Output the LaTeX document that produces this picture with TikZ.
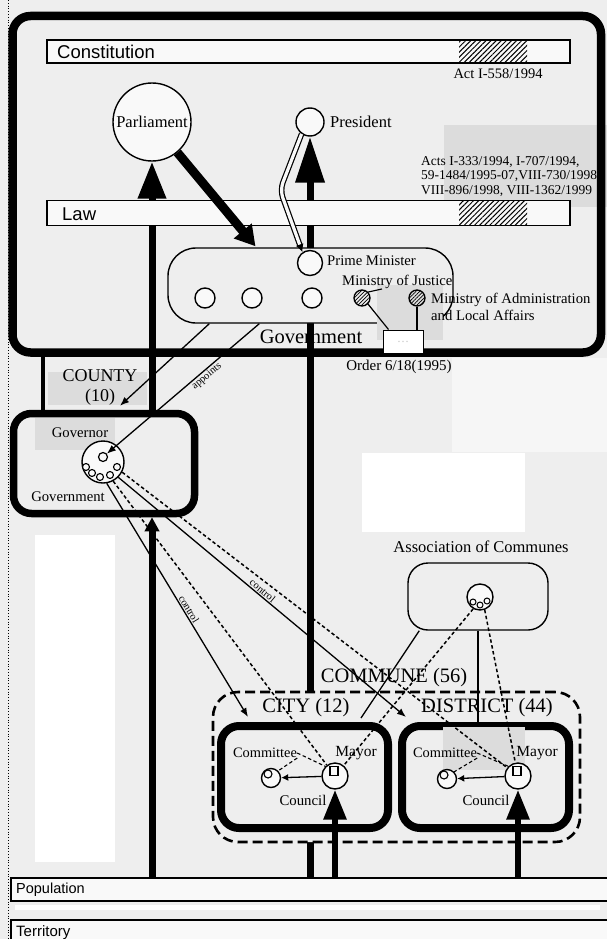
\documentclass[tikz,border=0pt]{standalone}
\usepackage{fontspec}
\setmainfont{Liberation Serif}
\newfontfamily\sansf{Liberation Sans}
\usetikzlibrary{arrows.meta,calc,patterns.meta}
\definecolor{bgc}{RGB}{238,238,238}
\definecolor{barc}{RGB}{249,249,249}
\definecolor{patch}{RGB}{220,220,220}
\definecolor{light}{RGB}{246,246,246}
\pgfdeclarelayer{bgl}
\pgfdeclarelayer{back}
\pgfsetlayers{bgl,back,main}
\tikzset{
  fs/.style={font=\fontsize{#1pt}{#1pt}\selectfont},
  lab/.style={inner sep=0pt, fs=14.7},
  biglab/.style={inner sep=0pt, fs=20.5},
  sanslab/.style={inner sep=0pt, font=\sansf\fontsize{#1pt}{#1pt}\selectfont},
  bar/.style={draw, line width=1.3pt, fill=barc, inner sep=0pt},
  hatchbox/.style={draw=none, inner sep=0pt, pattern={Lines[angle=45,distance=3.6pt,line width=1pt]}},
  circ/.style={circle, draw, line width=1.4pt, fill=barc, inner sep=0pt},
  hcirc/.style={circle, draw, line width=1.3pt, inner sep=0pt, pattern={Lines[angle=45,distance=2.6pt,line width=0.7pt]}},
  thickbox/.style={draw, line width=7.5pt, rounded corners=18pt, fill=bgc, inner sep=0pt},
  thinbox/.style={draw, line width=1.4pt, fill=bgc, inner sep=0pt},
  ctl/.style={line width=1.3pt, -{Latex[length=9pt,width=7pt]}},
  dsh/.style={line width=1.5pt, dash pattern=on 3.5pt off 2.5pt},
  vote/.style 2 args={line width=7pt, -{Triangle[length=#1pt,width=#2pt]}},
  sq/.style={draw, line width=1.2pt, fill=barc, minimum width=8pt, minimum height=9pt, inner sep=0pt}
}
\begin{document}
\begin{tikzpicture}[x=1pt,y=-1pt]
\useasboundingbox (0,0) rectangle (607,939);
\begin{pgfonlayer}{bgl}
  \fill[bgc] (0,0) rectangle (607,939);
  \fill[patch] (444,125) rectangle (607,207);
  \fill[light] (452,358) rectangle (607,452);
  \fill[white] (362,453) rectangle (525,532);
  \fill[white] (35,535) rectangle (115,862);
  \fill[white] (15,905) rectangle (600,910);
  \draw[dotted, line width=0.8pt] (8,0) -- (8,939);
\end{pgfonlayer}

% top frame
\node[draw, line width=8.5pt, rounded corners=18pt, minimum width=588.5pt, minimum height=336.5pt, inner sep=0pt] (frame) at (306.75,184.25) {};

% constitution and law
\node[bar, minimum width=523pt, minimum height=23pt] (const) at (308.5,51.5) {};
\node[hatchbox, minimum width=68pt, minimum height=21pt] (consth) at (493,51.5) {};
\node[sanslab=18.5, anchor=west] (constt) at (57,52) {Constitution};
\node[lab, fs=14.5] (act1) at (498,74) {Act I-558/1994};

\node[bar, minimum width=523pt, minimum height=25pt] (law) at (308.5,213) {};
\node[hatchbox, minimum width=68pt, minimum height=23pt] (lawh) at (493,213) {};
\node[sanslab=18.5, anchor=west] (lawt) at (62,214) {Law};

\node[inner sep=0pt, anchor=north west, align=left, font=\fontsize{13.5pt}{14.5pt}\selectfont] (acts) at (421,156)
  {Acts I-333/1994, I-707/1994,\\59-1484/1995-07,VIII-730/1998,\\VIII-896/1998, VIII-1362/1999};

\node[circ, minimum size=78pt, fs=16.5] (parl) at (152,122) {Parliament};
\node[circ, minimum size=28pt] (pres) at (310,122) {};
\node[lab, fs=16.5, anchor=west] (prest) at (330,122) {President};

% government
\node[thinbox, rounded corners=28pt, minimum width=285pt, minimum height=75pt] (gov) at (310.5,285.5) {};
\fill[patch] (377,285) rectangle (443,340);
\node[circ, minimum size=25pt] (pm) at (310,263) {};
\node[lab, anchor=west] (pmt) at (327,261) {Prime Minister};
\node[circ, minimum size=20pt] (g1) at (205,298) {};
\node[circ, minimum size=20pt] (g2) at (252,298) {};
\node[circ, minimum size=20pt] (g3) at (312,298) {};
\node[hcirc, minimum size=16pt] (mj) at (362,298) {};
\node[hcirc, minimum size=16pt] (ma) at (417,298) {};
\node[lab, anchor=west] (mjt) at (342,282) {Ministry of Justice};
\node[lab, anchor=west] (mat1) at (431,300) {Ministry of Administration};
\node[lab, anchor=west] (mat2) at (431,315) {and Local Affairs};
\node[draw, line width=1pt, fill=white, minimum width=40pt, minimum height=23pt, inner sep=0pt, fs=12, text=gray!45] (ord) at (403,341.5) {\dots};
\node[lab, fs=20.5] (govt) at (311,337) {Government};
\node[lab, fs=15] (ordt) at (399,367) {Order 6/18(1995)};
\draw[line width=1.1pt] (mj.45) -- ($(mjt.south west)+(40,0)$);
\draw[line width=1.2pt] (mj.south east) -- ($(ord.north west)+(6,0)$);
\draw[line width=1.2pt] (ma.south) -- (ord.north -| ma.south);

% county
\fill[patch] (48,372) rectangle (147,405);
\node[inner sep=0pt, align=center, font=\fontsize{18pt}{20pt}\selectfont] (countyt) at (100,387) {COUNTY\\(10)};
\node[thickbox, minimum width=181pt, minimum height=100pt] (county) at (104,463.5) {};
\fill[patch] (35,418) rectangle (115,450);
\node[lab] (govr) at (80,433) {Governor};
\node[circ, minimum size=42pt] (gc) at (103,462) {};
\node[circ, minimum size=9pt, line width=1.2pt] (gcin) at (103,457) {};
\foreach \dx/\dy [count=\i] in {-17/5,-11/11,-3/15,7/13,14/5}
  \node[circ, minimum size=7pt, line width=1.1pt] (gs\i) at (103+\dx,462+\dy) {};
\node[lab] (cgovt) at (68,497) {Government};
\draw[line width=4.5pt] (frame.south -| 43,0) -- (county.north -| 43,0);

% association
\node[lab, fs=16.5] (assoct) at (481,547) {Association of Communes};
\node[thinbox, rounded corners=20pt, minimum width=140pt, minimum height=67pt] (assoc) at (478,596.5) {};
\node[circ, minimum size=26pt] (acirc) at (480,597) {};
\node[circ, minimum size=6pt, line width=1pt] (as1) at (473,602) {};
\node[circ, minimum size=6pt, line width=1pt] (as2) at (480,605) {};
\node[circ, minimum size=6pt, line width=1pt] (as3) at (487,601) {};

% commune
\node[draw, line width=2.6pt, dash pattern=on 10pt off 5pt, rounded corners=25pt, fill=bgc, minimum width=367pt, minimum height=150pt, inner sep=0pt] (commune) at (396.5,767) {};
\node[biglab] (communet) at (394,678) {COMMUNE (56)};
\node[biglab] (cityt) at (306,708) {CITY (12)};
\node[biglab] (distt) at (487,708) {DISTRICT (44)};
\node[thickbox, line width=8pt, minimum width=167pt, minimum height=102pt] (city) at (304.5,777) {};
\node[thickbox, line width=8pt, minimum width=167pt, minimum height=102pt] (dist) at (485.5,777) {};
\fill[patch] (443,727) rectangle (525,770);

\node[circ, minimum size=26pt] (cmay) at (335,776) {};
\node[sq] (csq) at (334,771) {};
\node[circ, minimum size=19pt] (ccom) at (271,778) {};
\node[circ, minimum size=8pt, line width=1.1pt] (ccomin) at (268,774) {};
\node[lab, fs=14.4] (ccomt) at (265,753) {Committee};
\node[lab, fs=15.5] (cmayt) at (356,753) {Mayor};
\node[lab, fs=14.8] (ccout) at (303,800) {Council};

\node[circ, minimum size=26pt] (dmay) at (518,776) {};
\node[sq] (dsq) at (517,771) {};
\node[circ, minimum size=19pt] (dcom) at (447,779) {};
\node[circ, minimum size=8pt, line width=1.1pt] (dcomin) at (444,775) {};
\node[lab, fs=14.4] (dcomt) at (445,753) {Committee};
\node[lab, fs=15.5] (dmayt) at (537,753) {Mayor};
\node[lab, fs=14.8] (dcout) at (486,800) {Council};

% population, territory
\node[bar, line width=1.2pt, minimum width=600pt, minimum height=23pt] (pop) at (311,889.5) {};
\node[sanslab=14.5, anchor=west] (popt) at (16,890) {Population};
\node[bar, line width=1.2pt, minimum width=600pt, minimum height=26pt] (terr) at (311,933) {};
\node[sanslab=15, anchor=west] (terrt) at (16,933) {Territory};

% hidden vertical lines
\begin{pgfonlayer}{back}
  \draw[vote={37}{27}] (county.north -| parl.south) -- (parl.south);
  \draw[vote={14}{14}] (pop.north -| parl.south) -- (county.south -| parl.south);
  \draw[vote={46}{28}] (pop.north -| pres.south) -- (pres.south);
\end{pgfonlayer}

% connectors on top
\draw[line width=9pt, -{Triangle[length=20pt,width=22pt]}] (parl) -- ($(gov.north)+(-55,-1)$);
\draw[line width=1.2pt, double=barc, double distance=3.2pt, rounded corners=8pt, -{Latex[length=8pt,width=8pt]}] (pres.235) -- (280,190) -- (pm.125);

\draw[ctl] ($(gov.south west)+(42,0)$) -- ($(county.north)+(16,-4)$);
\draw[ctl] ($(gov.south west)+(92,0)$) -- (gcin) node[pos=0.37, sloped, below=1pt, lab, fs=10.5] {appoints};

\draw[ctl] (gc.-80) -- ($(city.north west)+(31,-5)$) node[pos=0.55, sloped, above=1pt, lab, fs=10.5] {control};
\draw[dsh] (gc.-62) -- (cmay);
\draw[ctl] (gc.-45) -- ($(dist.north west)+(8,-5)$) node[pos=0.49, sloped, above=1pt, lab, fs=10.5] {control};
\draw[dsh] (gc.-28) -- (dmay);

\draw[line width=1.3pt] ($(assoc.south west)+(12,0)$) -- ($(city.north east)+(-31,-4)$);
\draw[line width=1.3pt] (assoc.south) -- (assoc.south |- dist.north);
\draw[dsh] (acirc.-120) -- (cmay);
\draw[dsh] (acirc.-70) -- (dmay);

\draw[line width=1.3pt, -{Latex[length=7pt,width=7pt]}] (cmay) -- (ccom);
\draw[dsh, line width=1.1pt] (ccomt.east) -- (cmay.north west);
\draw[dsh, line width=1.1pt] (ccomt.south east) -- (ccom.north east);
\draw[line width=1.3pt, -{Latex[length=7pt,width=7pt]}] (dmay) -- (dcom);
\draw[dsh, line width=1.1pt] (dcomt.east) -- (dmay.north west);
\draw[dsh, line width=1.1pt] (dcomt.south east) -- (dcom.north east);

\draw[vote={30}{22}, line width=6pt] (pop.north -| cmay.south) -- (cmay.south);
\draw[vote={30}{22}, line width=6pt] (pop.north -| dmay.south) -- (dmay.south);
\end{tikzpicture}
\end{document}
